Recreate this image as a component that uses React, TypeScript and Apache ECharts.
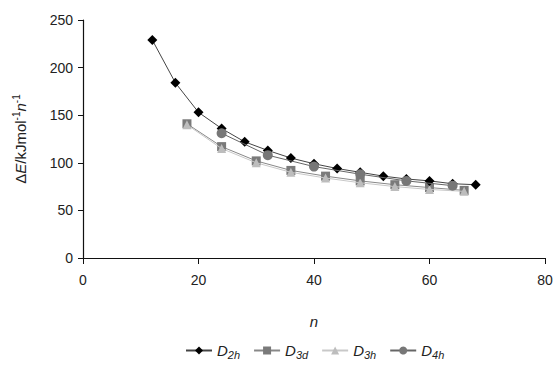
import React, { useEffect, useRef } from "react";
import * as echarts from "echarts";

const nD2h = [12, 16, 20, 24, 28, 32, 36, 40, 44, 48, 52, 56, 60, 64, 68];
const vD2h = [229, 184, 153, 136, 122, 113, 105, 99, 94, 90, 86, 83, 81, 78, 77];
const nD3 = [18, 24, 30, 36, 42, 48, 54, 60, 66];
const vD3d = [141, 117, 102, 92, 86, 81, 77, 74, 71];
const vD3h = [140, 115, 100, 90, 84, 79, 75, 72, 70];
const nD4h = [24, 32, 40, 48, 56, 64];
const vD4h = [131, 108, 96, 88, 81, 76];
const xTicks = [0, 20, 40, 60, 80];
const yTicks = [0, 50, 100, 150, 200, 250];

const zip = (xs: number[], ys: number[]) => xs.map((x, i) => [x, ys[i]]);

const font = "Liberation Sans, Arial, sans-serif";

export default function App() {
  const ref = useRef<HTMLDivElement>(null);
  useEffect(() => {
    const chart = echarts.init(ref.current!, null, { renderer: "svg" });
    const legendRich = {
      i: { fontStyle: "italic", fontSize: 15, fontFamily: font, color: "#222" },
      s: { fontStyle: "italic", fontSize: 11, fontFamily: font, color: "#222", padding: [8, 0, 0, 0] },
    };
    const names: Record<string, string> = {
      D2h: "{i|D}{s|2h}",
      D3d: "{i|D}{s|3d}",
      D3h: "{i|D}{s|3h}",
      D4h: "{i|D}{s|4h}",
    };
    chart.setOption({
      animation: false,
      backgroundColor: "#fff",
      grid: { left: 83, right: 11, top: 20, bottom: 109 },
      xAxis: {
        type: "value",
        min: xTicks[0],
        max: xTicks[xTicks.length - 1],
        interval: 20,
        name: "n",
        nameLocation: "middle",
        nameGap: 56,
        nameTextStyle: { fontStyle: "italic", fontSize: 15, fontFamily: font, color: "#222" },
        axisLine: { show: true, lineStyle: { color: "#111", width: 1.2 } },
        axisTick: { show: true, length: 6, lineStyle: { color: "#111" } },
        axisLabel: { fontSize: 14, fontFamily: font, color: "#222", margin: 15 },
        splitLine: { show: false },
      },
      yAxis: {
        type: "value",
        min: yTicks[0],
        max: yTicks[yTicks.length - 1],
        interval: 50,
        name: "{n|Δ}{i|E}{n|/kJmol}{sup|-1}{i|n}{sup|-1}",
        nameLocation: "middle",
        nameGap: 54,
        nameTextStyle: {
          rich: {
            n: { fontSize: 15, fontFamily: font, color: "#222" },
            i: { fontSize: 15, fontFamily: font, color: "#222", fontStyle: "italic" },
            sup: { fontSize: 10, fontFamily: font, color: "#222", padding: [0, 0, 8, 0] },
          },
        },
        axisLine: { show: true, lineStyle: { color: "#111", width: 1.2 } },
        axisTick: { show: true, length: 5, lineStyle: { color: "#111" } },
        axisLabel: { fontSize: 14, fontFamily: font, color: "#222", margin: 10 },
        splitLine: { show: false },
      },
      legend: {
        top: 338,
        left: 180,
        itemWidth: 26,
        itemHeight: 10,
        itemGap: 13,
        formatter: (n: string) => names[n],
        textStyle: { rich: legendRich },
        data: ["D2h", "D3d", "D3h", "D4h"],
      },
      series: [
        {
          name: "D2h",
          type: "line",
          data: zip(nD2h, vD2h),
          symbol: "diamond",
          symbolSize: 10,
          lineStyle: { color: "#444", width: 1 },
          itemStyle: { color: "#000" },
          z: 5,
        },
        {
          name: "D3d",
          type: "line",
          data: zip(nD3, vD3d),
          symbol: "rect",
          symbolSize: 9,
          lineStyle: { color: "#888", width: 1 },
          itemStyle: { color: "#7a7a7a" },
          z: 3,
        },
        {
          name: "D3h",
          type: "line",
          data: zip(nD3, vD3h),
          symbol: "triangle",
          symbolSize: 9,
          lineStyle: { color: "#c8c8c8", width: 1 },
          itemStyle: { color: "#bdbdbd" },
          z: 4,
        },
        {
          name: "D4h",
          type: "line",
          data: zip(nD4h, vD4h),
          symbol: "circle",
          symbolSize: 10,
          lineStyle: { color: "#666", width: 1 },
          itemStyle: { color: "#777" },
          z: 6,
        },
      ],
    });
    return () => chart.dispose();
  }, []);
  return (
    <div
      ref={ref}
      style={{ position: "fixed", left: 0, top: 0, width: 556, height: 367 }}
    />
  );
}
